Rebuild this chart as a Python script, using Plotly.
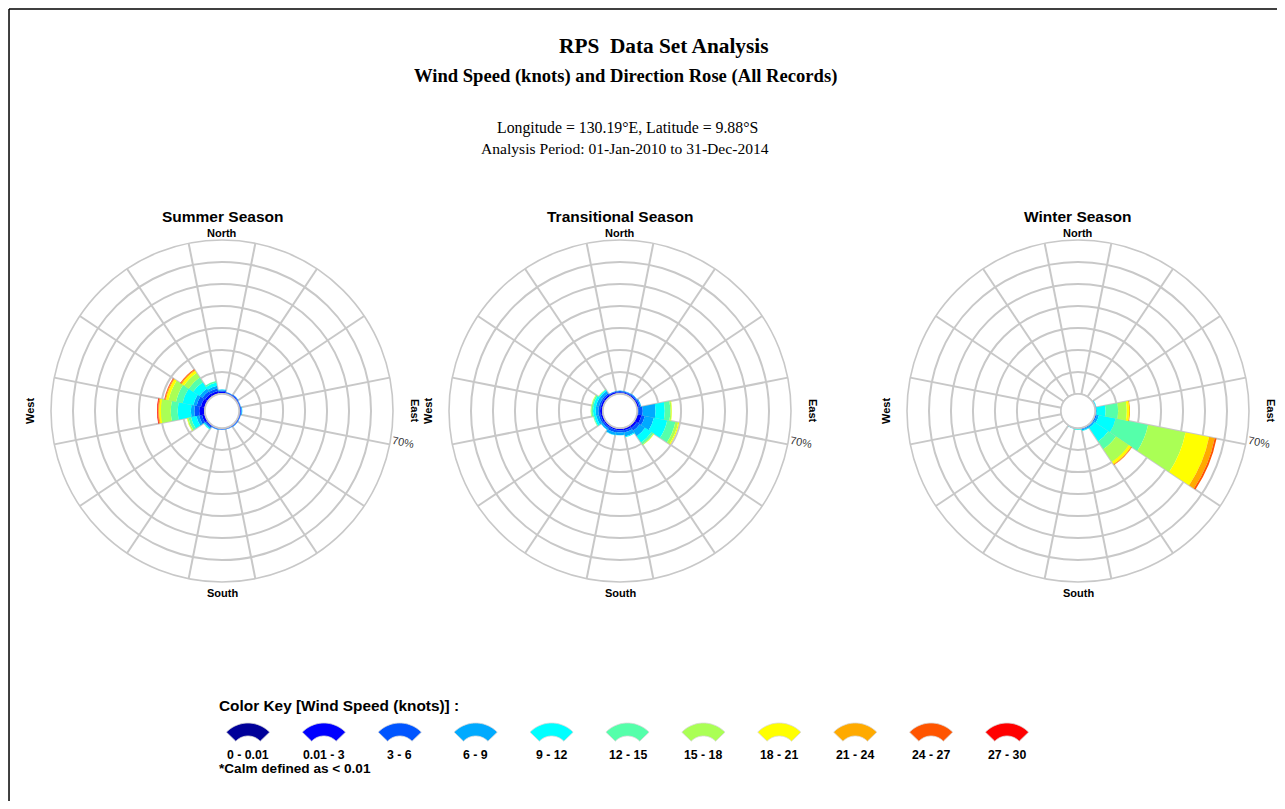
import numpy as np
import plotly.graph_objects as go

# ---------------- data ----------------
directions = ["N", "NNE", "NE", "ENE", "E", "ESE", "SE", "SSE",
              "S", "SSW", "SW", "WSW", "W", "WNW", "NW", "NNW"]
speed_bins = ["0 - 0.01", "0.01 - 3", "3 - 6", "6 - 9", "9 - 12", "12 - 15",
              "15 - 18", "18 - 21", "21 - 24", "24 - 27", "27 - 30"]
bin_colors = ["#000099", "#0000ff", "#0055ff", "#00aaff", "#00ffff", "#55ffaa",
              "#aaff55", "#ffff00", "#ffaa00", "#ff5500", "#ff0000"]

# percent of records, one row per direction, columns follow speed_bins
summer_pct = [
    [0, 1.0, 0.6, 0.4, 0.1, 0, 0, 0, 0, 0, 0],          # N
    [0, 0.6, 0.3, 0.1, 0, 0, 0, 0, 0, 0, 0],            # NNE
    [0, 0.7, 0.4, 0.1, 0, 0, 0, 0, 0, 0, 0],            # NE
    [0, 0.6, 0.3, 0.1, 0, 0, 0, 0, 0, 0, 0],            # ENE
    [0, 0.7, 0.4, 0.3, 0.1, 0, 0, 0, 0, 0, 0],          # E
    [0, 0.6, 0.3, 0.1, 0, 0, 0, 0, 0, 0, 0],            # ESE
    [0, 0.6, 0.3, 0.1, 0, 0, 0, 0, 0, 0, 0],            # SE
    [0, 0.5, 0.2, 0.1, 0, 0, 0, 0, 0, 0, 0],            # SSE
    [0, 0.5, 0.2, 0.1, 0, 0, 0, 0, 0, 0, 0],            # S
    [0, 0.5, 0.3, 0.2, 0, 0, 0, 0, 0, 0, 0],            # SSW
    [0, 0.8, 0.6, 0.5, 0.4, 0.1, 0, 0, 0, 0, 0],        # SW
    [0, 1.5, 1.3, 1.3, 2.5, 1.2, 0.6, 0.2, 0, 0, 0],    # WSW
    [0, 2.6, 2.2, 1.6, 6.0, 3.1, 4.5, 0.8, 0.4, 0.3, 0.3],  # W
    [0, 2.0, 2.0, 1.5, 5.0, 3.0, 3.5, 1.2, 0.4, 0.3, 0.1],  # WNW
    [0, 1.6, 1.4, 1.5, 3.5, 2.5, 2.5, 1.2, 0.5, 0.3, 0.1],  # NW
    [0, 1.5, 1.2, 1.2, 1.5, 0.7, 0, 0, 0, 0, 0],        # NNW
]

transitional_pct = [
    [0, 0.8, 0.5, 0.2, 0, 0, 0, 0, 0, 0, 0],            # N
    [0, 0.8, 0.5, 0.2, 0, 0, 0, 0, 0, 0, 0],            # NNE
    [0, 0.9, 0.5, 0.3, 0, 0, 0, 0, 0, 0, 0],            # NE
    [0, 1.0, 0.7, 0.4, 0, 0, 0, 0, 0, 0, 0],            # ENE
    [0, 0.6, 2.0, 5.8, 4.2, 2.5, 0.6, 0.2, 0, 0, 0],    # E
    [0, 2.2, 1.5, 4.2, 6.2, 3.8, 1.3, 0.5, 0, 0, 0],    # ESE
    [0, 1.5, 1.5, 3.0, 3.5, 1.0, 0.4, 0.1, 0, 0, 0],    # SE
    [0, 1.2, 1.0, 1.8, 0.4, 0, 0, 0, 0, 0, 0],          # SSE
    [0, 1.0, 1.0, 1.2, 0.1, 0, 0, 0, 0, 0, 0],          # S
    [0, 1.0, 1.2, 1.2, 0.2, 0, 0, 0, 0, 0, 0],          # SSW
    [0, 1.0, 0.8, 0.8, 0.1, 0, 0, 0, 0, 0, 0],          # SW
    [0, 1.2, 0.8, 1.2, 1.0, 0.4, 0.1, 0, 0, 0, 0],      # WSW
    [0, 1.3, 0.8, 1.2, 1.2, 0.8, 0.2, 0.1, 0, 0, 0],    # W
    [0, 1.2, 0.8, 1.3, 1.2, 0.7, 0.2, 0.1, 0, 0, 0],    # WNW
    [0, 1.2, 0.8, 1.2, 0.6, 0.2, 0.1, 0.05, 0, 0, 0],   # NW
    [0, 1.0, 0.4, 0.1, 0, 0, 0, 0, 0, 0, 0],            # NNW
]

winter_pct = [
    [0, 0, 0, 0, 0, 0, 0, 0, 0, 0, 0],                  # N
    [0, 0, 0, 0, 0, 0, 0, 0, 0, 0, 0],                  # NNE
    [0, 0, 0, 0, 0, 0, 0, 0, 0, 0, 0],                  # NE
    [0, 0.1, 0.2, 0.3, 0.2, 0, 0, 0, 0, 0, 0],          # ENE
    [0, 0.1, 0.3, 0.4, 4.0, 5.7, 3.9, 1.1, 0.4, 0, 0],  # E
    [0, 0.3, 0.6, 1.0, 7.8, 15.0, 17.4, 10.9, 2.6, 0.9, 0],  # ESE
    [0, 0.2, 0.4, 0.8, 7.4, 4.2, 7.0, 1.2, 0.4, 0.2, 0],     # SE
    [0, 0.2, 0.5, 0.6, 0.2, 0, 0, 0, 0, 0, 0],          # SSE
    [0, 0.1, 0.2, 0.3, 0.2, 0.1, 0, 0, 0, 0, 0],        # S
    [0, 0.1, 0.1, 0.2, 0.1, 0, 0, 0, 0, 0, 0],          # SSW
    [0, 0, 0, 0, 0, 0, 0, 0, 0, 0, 0],                  # SW
    [0, 0, 0, 0, 0, 0, 0, 0, 0, 0, 0],                  # WSW
    [0, 0, 0, 0, 0, 0, 0, 0, 0, 0, 0],                  # W
    [0, 0, 0, 0, 0, 0, 0, 0, 0, 0, 0],                  # WNW
    [0, 0, 0, 0, 0, 0, 0, 0, 0, 0, 0],                  # NW
    [0, 0, 0, 0, 0, 0, 0, 0, 0, 0, 0],                  # NNW
]

season_titles = ["Summer Season", "Transitional Season", "Winter Season"]
radial_ticks = [10, 20, 30, 40, 50, 60, 70]
radial_max = 70

# ---------------- layout helpers (page pixels -> paper) ----------------
W, H = 1269, 793          # figure size; page body adds an 8px margin
OFF = 8


def fx(X):
    return (X - OFF) / W


def fy(Y):
    return 1 - (Y - OFF) / H


GRID = "#c8c8c8"
SANS = "Liberation Sans, Arial, sans-serif"
SERIF = "Liberation Serif, Times New Roman, serif"

centers = [(222, 411), (620, 411), (1078, 411)]
RADIUS = 171
dir_angles = [i * 360 / len(directions) for i in range(len(directions))]
spokes = [a + 180 / len(directions) for a in dir_angles]

fig = go.Figure()
seasons = [summer_pct, transitional_pct, winter_pct]

for s, table in enumerate(seasons):
    pid = "polar" if s == 0 else f"polar{s + 1}"
    for j, name in enumerate(speed_bins):
        fig.add_trace(go.Barpolar(
            r=[row[j] for row in table], theta=dir_angles,
            width=[360 / len(directions)] * len(directions),
            marker=dict(color=bin_colors[j], line=dict(width=0)),
            name=name, showlegend=False, subplot=pid,
            hovertemplate="%{theta}°: %{r}%<extra>" + name + "</extra>"))
    # hole edge ring
    fig.add_trace(go.Scatterpolar(
        r=[0] * 121, theta=np.linspace(0, 360, 121), mode="lines",
        line=dict(color=GRID, width=1.6), hoverinfo="skip",
        showlegend=False, subplot=pid))

    cx, cy = centers[s]
    fig.layout[pid] = dict(
        domain=dict(x=[fx(cx - RADIUS), fx(cx + RADIUS)],
                    y=[fy(cy + RADIUS), fy(cy - RADIUS)]),
        hole=0.1, bargap=0, barmode="stack", bgcolor="white",
        radialaxis=dict(range=[0, radial_max], tickvals=radial_ticks,
                        showticklabels=False, ticks="", showline=False,
                        gridcolor=GRID, gridwidth=1.6, layer="above traces",
                        angle=-11.25),
        angularaxis=dict(direction="clockwise", rotation=90,
                         tickmode="array", tickvals=spokes,
                         showticklabels=False, ticks="", showline=True,
                         linecolor=GRID, linewidth=1.6, gridcolor=GRID,
                         gridwidth=1.6, layer="above traces"),
    )

annotations = []


def txt(text, X, Y, size, family=SANS, bold=True, xanchor="center",
        angle=0, color="black"):
    t = f"<b>{text}</b>" if bold else text
    annotations.append(dict(text=t, x=fx(X), y=fy(Y), xref="paper",
                            yref="paper", showarrow=False, xanchor=xanchor,
                            yanchor="middle", textangle=angle,
                            font=dict(family=family, size=size, color=color)))


txt("RPS\u00a0 Data Set Analysis", 663, 45.5, 21.3, SERIF)
txt("Wind Speed (knots) and Direction Rose (All Records)", 625, 76, 18.6, SERIF)
txt("Longitude = 130.19°E, Latitude = 9.88°S", 627, 128, 15.8, SERIF, bold=False)
txt("Analysis Period: 01-Jan-2010 to 31-Dec-2014", 625, 148, 15.6, SERIF, bold=False)

for s, (cx, cy) in enumerate(centers):
    txt(season_titles[s], cx, 216, 15.5)
    txt("North", cx, 233, 11)
    txt("South", cx, 593, 11)
    txt("West", cx - 192, cy, 11, angle=-90)
    txt("East", cx + 193, cy, 11, angle=90)
    txt("70%", cx + 181, cy + 31, 11, bold=False, angle=11, color="#333333")

# colour key
txt("Color Key [Wind Speed (knots)] :", 217, 705, 15.4, xanchor="left")
txt("*Calm defined as < 0.01", 217, 768.5, 13.6, xanchor="left")

shapes = []
key_x0, key_dx = 248, 75.9
theta_half = np.radians(46)
for k, (lab, col) in enumerate(zip(speed_bins, bin_colors)):
    kx = key_x0 + k * key_dx
    ky = 753
    a = np.linspace(-theta_half, theta_half, 25)
    outer = [(kx + 30 * np.sin(t), ky - 30 * np.cos(t)) for t in a]
    inner = [(kx + 17 * np.sin(t), ky - 17 * np.cos(t)) for t in a[::-1]]
    pts = outer + inner
    path = "M " + " L ".join(f"{fx(X):.5f},{fy(Y):.5f}" for X, Y in pts) + " Z"
    shapes.append(dict(type="path", path=path, xref="paper", yref="paper",
                       fillcolor=col, line=dict(color="#d8d8d8", width=0.8)))
    txt(lab, kx, 755, 12.3)

# page frame
shapes.append(dict(type="line", xref="paper", yref="paper", x0=0.0008,
                   x1=1, y0=0.9988, y1=0.9988, line=dict(color="black", width=1.5)))
shapes.append(dict(type="line", xref="paper", yref="paper", x0=0.0008,
                   x1=0.0008, y0=0, y1=0.9988, line=dict(color="black", width=1.5)))

fig.update_layout(width=W, height=H, margin=dict(l=0, r=0, t=0, b=0),
                  paper_bgcolor="white", plot_bgcolor="white",
                  annotations=annotations, shapes=shapes, showlegend=False)

fig.write_html("out.html")
